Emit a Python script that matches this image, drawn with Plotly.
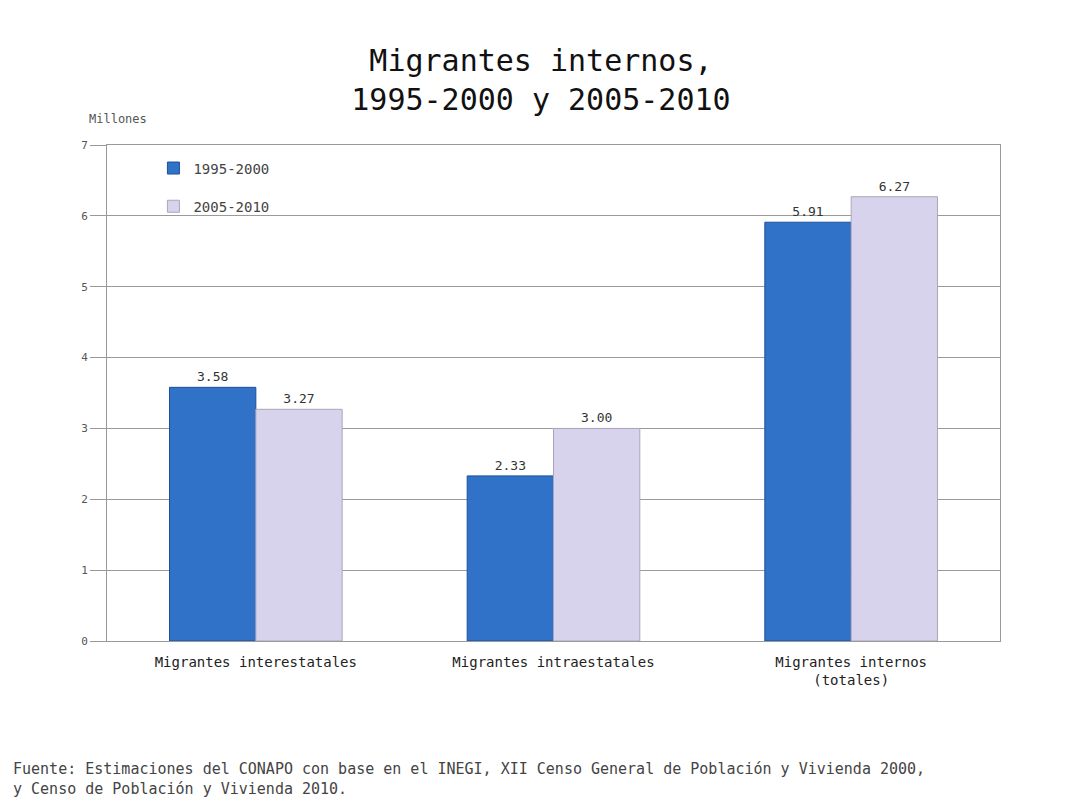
import plotly.graph_objects as go

categories = ["Migrantes interestatales", "Migrantes intraestatales", "Migrantes internos<br>(totales)"]
series_names = ["1995-2000", "2005-2010"]
values_1995 = [3.58, 2.33, 5.91]
values_2005 = [3.27, 3.00, 6.27]
labels_1995 = ["3.58", "2.33", "5.91"]
labels_2005 = ["3.27", "3.00", "6.27"]
y_ticks = [0, 1, 2, 3, 4, 5, 6, 7]

FONT = "DejaVu Sans Mono"

fig = go.Figure()
fig.add_trace(go.Bar(
    x=categories, y=values_1995, name=series_names[0], legendgroup="a",
    text=labels_1995, textposition="outside",
    textfont=dict(family=FONT, size=13, color="#333"),
    marker=dict(color="#2F72C8", line=dict(color="#1E4F9A", width=1)),
    cliponaxis=False,
))
fig.add_trace(go.Bar(
    x=categories, y=values_2005, name=series_names[1], legendgroup="b",
    text=labels_2005, textposition="outside",
    textfont=dict(family=FONT, size=13, color="#333"),
    marker=dict(color="#D8D3EC", line=dict(color="#A9A6BB", width=1)),
    cliponaxis=False,
))

fig.update_layout(
    width=1068, height=804,
    paper_bgcolor="white", plot_bgcolor="white",
    margin=dict(l=99, r=76, t=137, b=171),
    barmode="group", bargap=0.42, bargroupgap=0.0,
    font=dict(family=FONT, color="#333"),
    title=dict(text="Migrantes internos,<br>1995-2000 y 2005-2010",
               x=0.499, xanchor="center", y=0.922, yanchor="top",
               font=dict(family=FONT, size=30, color="#111")),
    legend=dict(x=0.052, y=0.985, xanchor="left", yanchor="top",
                bgcolor="rgba(0,0,0,0)", font=dict(family=FONT, size=14, color="#444"),
                tracegroupgap=17, itemwidth=30),
    showlegend=True,
)
fig.update_xaxes(showline=True, linecolor="#999", mirror=True,
                 tickfont=dict(family=FONT, size=14, color="#222"), ticks="",
                 ticklabelstandoff=8)
fig.update_yaxes(range=[0, 7], tickvals=y_ticks, showgrid=True, gridcolor="#9a9a9a",
                 showline=True, linecolor="#999", mirror=True, zeroline=False,
                 ticks="outside", ticklen=16, tickcolor="#999",
                 tickfont=dict(family=FONT, size=11, color="#555"))

fig.add_annotation(text="Millones", xref="paper", yref="paper", x=-0.022, y=1.035,
                   xanchor="left", yanchor="bottom", showarrow=False,
                   font=dict(family=FONT, size=12, color="#555"))
fig.add_annotation(
    text="Fuente: Estimaciones del CONAPO con base en el INEGI, XII Censo General de Población y Vivienda 2000,<br>y Censo de Población y Vivienda 2010.",
    xref="paper", yref="paper", x=-0.108, y=-0.235, xanchor="left", yanchor="top",
    align="left", showarrow=False, font=dict(family=FONT, size=15, color="#444"))

fig.write_html("out.html")
